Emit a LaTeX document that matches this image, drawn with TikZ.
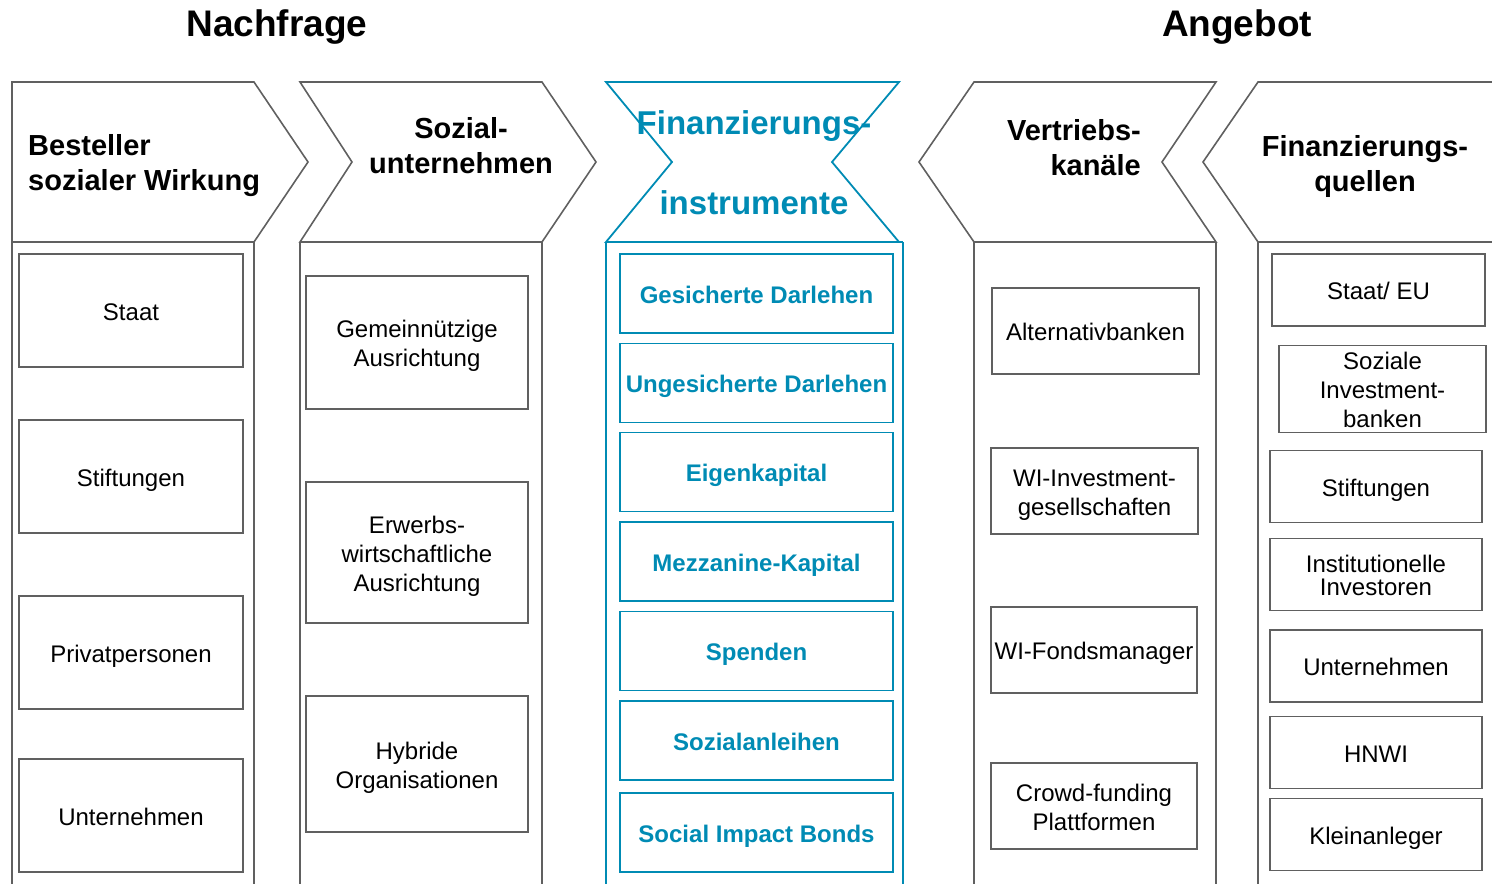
\documentclass[tikz,border=0pt]{standalone}
\usepackage{fontspec}
\setmainfont{Liberation Sans}
\definecolor{lg}{RGB}{96,96,96}
\definecolor{bl}{RGB}{0,139,180}
\newcommand\mystrut{\rule[-5pt]{0pt}{29pt}}
\newcommand\mydepth{\rule[-5pt]{0pt}{5pt}}
\begin{document}
\begin{tikzpicture}[x=1pt,y=-1pt,
  outl/.style={draw=lg, line width=1.6pt, line join=miter},
  bout/.style={draw=bl, line width=1.8pt},
  gbox/.style={draw=lg, line width=1.6pt, align=center, inner sep=0pt,
    font=\fontsize{24}{29}\selectfont},
  bbox/.style={draw=bl, line width=1.8pt, align=center, inner sep=0pt, text=bl,
    font=\bfseries\fontsize{24}{29}\selectfont, minimum width=273pt, minimum height=79pt},
  hdr/.style={font=\bfseries\fontsize{29}{35}\selectfont, inner sep=0pt},
  ttl/.style={font=\bfseries\fontsize{37}{44}\selectfont, inner sep=0pt}]
\useasboundingbox (0,0) rectangle (1492,884);

% titles
\node[ttl] (nachfrage) at (277,27) {Nachfrage};
\node[ttl] (angebot) at (1237,27) {Angebot};

% column 1
\draw[outl] (12,242) -- (12,82) -- (254,82) -- (308,162) -- (254,242) -- cycle;
\draw[outl] (12,242) -- (12,884) (254,242) -- (254,884);
\node[hdr, anchor=west, align=left] (h1) at (28,166) {Besteller\\sozialer Wirkung};
\node[gbox, line width=2.6pt, minimum width=224pt, minimum height=113pt] (staat) at (131,310.5) {\mystrut Staat};
\node[gbox, minimum width=224pt, minimum height=113pt] (stift) at (131,476.5) {\mystrut Stiftungen};
\node[gbox, minimum width=224pt, minimum height=113pt] (priv) at (131,652.5) {\mystrut Privatpersonen};
\node[gbox, minimum width=224pt, minimum height=113pt] (unt) at (131,815.5) {\mystrut Unternehmen};

% column 2
\draw[outl] (300,82) -- (542,82) -- (596,162) -- (542,242) -- (300,242) -- (352,162) -- cycle;
\draw[outl] (300,242) -- (300,884) (542,242) -- (542,884);
\node[hdr, align=center] (h2) at (461,146) {Sozial-\\unternehmen};
\node[gbox, minimum width=222pt, minimum height=133pt] (gem) at (417,342.5) {\mystrut Gemeinnützige\\\mystrut Ausrichtung};
\node[gbox, minimum width=222pt, minimum height=141pt] (erw) at (417,552.5) {\mystrut Erwerbs-\\\mystrut wirtschaftliche\\\mystrut Ausrichtung};
\node[gbox, minimum width=222pt, minimum height=136pt] (hyb) at (417,764) {\mystrut Hybride\\\mystrut Organisationen};

% column 3
\draw[bout] (606,82) -- (899,82) -- (832,162) -- (899,242) -- (606,242) -- (672,162) -- cycle;
\draw[bout] (606,242) -- (606,884) (903,242) -- (903,884) (606,242) -- (903,242);
\node[font=\bfseries\fontsize{33}{80}\selectfont, text=bl, align=center, inner sep=0pt] (h3) at (754,163) {Finanzierungs-\\instrumente};
\node[bbox] (gd) at (756.5,293.5) {\mystrut Gesicherte Darlehen};
\node[bbox] (ud) at (756.5,383) {\mystrut Ungesicherte Darlehen};
\node[bbox] (ek) at (756.5,472) {\mystrut Eigenkapital};
\node[bbox] (mk) at (756.5,561.5) {\mystrut Mezzanine-Kapital};
\node[bbox] (sp) at (756.5,651) {\mystrut Spenden};
\node[bbox] (sa) at (756.5,740.5) {\mystrut Sozialanleihen};
\node[bbox] (sib) at (756.5,832.5) {\mystrut Social Impact Bonds};

% column 4
\draw[outl] (919,162) -- (974,82) -- (1216,82) -- (1162,162) -- (1216,242) -- (974,242) -- cycle;
\draw[outl] (974,242) -- (974,884) (1216,242) -- (1216,884);
\node[hdr, anchor=east, align=right] (h4) at (1141,148) {Vertriebs-\\kanäle};
\node[gbox, minimum width=207pt, minimum height=86pt] (alt) at (1095.5,331) {\mystrut Alternativbanken};
\node[gbox, minimum width=207pt, minimum height=86pt] (wii) at (1094.5,491) {\mystrut WI-Investment-\\\mystrut gesellschaften};
\node[gbox, minimum width=206pt, minimum height=86pt] (wif) at (1094,650) {\mystrut WI-Fondsmanager};
\node[gbox, minimum width=206pt, minimum height=86pt] (crowd) at (1094,806) {\mystrut Crowd-funding\\\mystrut Plattformen};

% column 5
\draw[outl] (1500,82) -- (1258,82) -- (1203,162) -- (1258,242) -- (1500,242);
\draw[outl] (1258,242) -- (1258,884);
\node[hdr, align=center] (h5) at (1365,166) {Finanzierungs-\\quellen};
\node[gbox, minimum width=213pt, minimum height=72pt] (seu) at (1378.5,290) {\mystrut Staat/ EU};
\node[gbox, minimum width=207pt, minimum height=84pt] (sib2) at (1382.5,389) {\mystrut Soziale\\\mystrut Investment-\\\mystrut banken};
\node[gbox, minimum width=212pt, minimum height=72pt] (stift2) at (1376,486.5) {\mystrut Stiftungen};
\node[gbox, minimum width=212pt, minimum height=72pt, font=\fontsize{24}{23}\selectfont] (inst) at (1376,574.5) {\mystrut Institutionelle\\\mydepth Investoren};
\node[gbox, minimum width=212pt, minimum height=72pt] (unt2) at (1376,666) {\mystrut Unternehmen};
\node[gbox, minimum width=212pt, minimum height=72pt] (hnwi) at (1376,752.5) {\mystrut HNWI};
\node[gbox, minimum width=212pt, minimum height=72pt] (klein) at (1376,834.5) {\mystrut Kleinanleger};
\end{tikzpicture}
\end{document}
